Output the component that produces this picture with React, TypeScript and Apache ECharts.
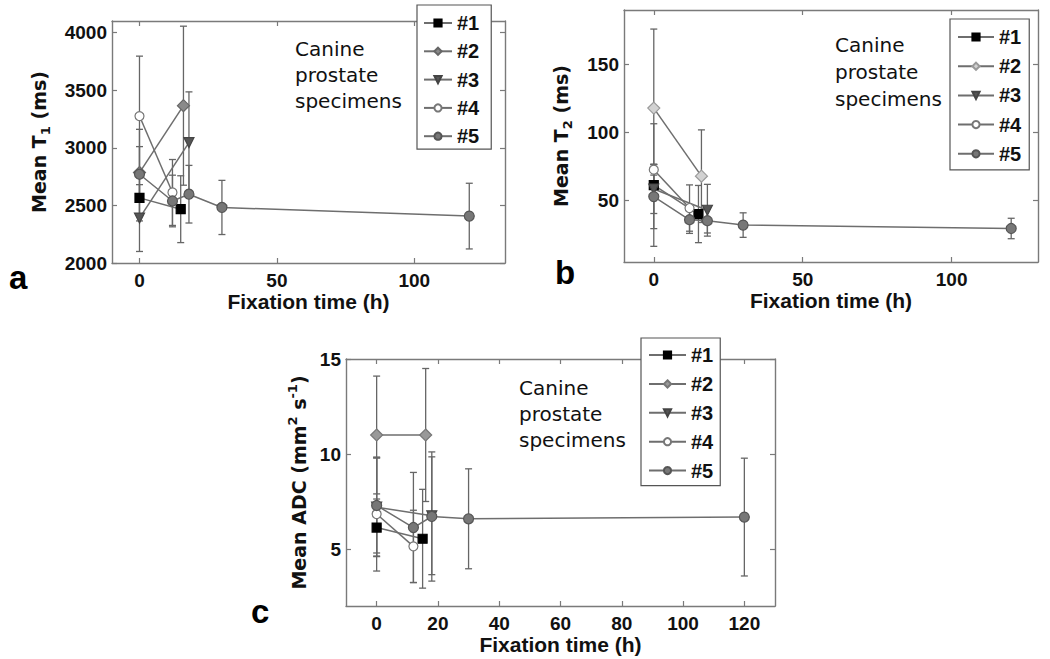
import React, { useEffect, useRef } from 'react';
import * as echarts from 'echarts';

// Fixation times (h) of each specimen
const hours = [
  [0, 15],
  [0, 16],
  [0, 18],
  [0, 12],
  [0, 12, 18, 30, 120],
];
const specimens = ['#1', '#2', '#3', '#4', '#5'];

// Panel a: mean T1 (ms) and error bars
const t1Means = [
  [2565, 2467],
  [2785, 3365],
  [2390, 3045],
  [3275, 2612],
  [2770, 2538, 2597, 2482, 2407],
];
const t1Errors = [
  [200, 290],
  [375, 690],
  [290, 440],
  [520, 286],
  [240, 224, 250, 235, 285],
];

// Panel b: mean T2 (ms)
const t2Means = [
  [61.5, 40.2],
  [118, 68],
  [58.6, 43],
  [72.8, 44.6],
  [53, 36, 35.3, 32.1, 29.6],
];
const t2Errors = [
  [45, 21],
  [58, 34],
  [18, 19],
  [4, 17],
  [23.5, 10, 9, 9, 7.5],
];

// Panel c: mean ADC
const adcMeans = [
  [6.13, 5.54],
  [11.0, 11.0],
  [7.2, 6.75],
  [6.84, 5.14],
  [7.29, 6.13, 6.71, 6.59, 6.68],
];
const adcErrors = [
  [1.5, 2.6],
  [3.1, 3.5],
  [2.6, 3.1],
  [3.0, 1.9],
  [2.5, 2.9, 3.4, 2.63, 3.1],
];

const t1XTicks = [0, 50, 100];
const t1YTicks = [2000, 2500, 3000, 3500, 4000];
const t2XTicks = [0, 50, 100];
const t2YTicks = [50, 100, 150];
const adcXTicks = [0, 20, 40, 60, 80, 100, 120];
const adcYTicks = [5, 10, 15];

const FONT = "'Liberation Sans', Arial, sans-serif";
const WIDE_FONT = "'DejaVu Sans', sans-serif";
const AXIS_COLOR = '#7a7a7a';
const LINE_COLOR = '#6e6e6e';
const TEXT_COLOR = '#111';

type MarkerStyle = { symbol: string; size: number; rotate: number; fill: string; border: string };

function markerStyles(diamondFill: string, diamondBorder: string): MarkerStyle[] {
  return [
    { symbol: 'rect', size: 9, rotate: 0, fill: '#000', border: '#000' },
    { symbol: 'diamond', size: 12, rotate: 0, fill: diamondFill, border: diamondBorder },
    { symbol: 'triangle', size: 10, rotate: 180, fill: '#555', border: '#444' },
    { symbol: 'circle', size: 9, rotate: 0, fill: '#fff', border: '#777' },
    { symbol: 'circle', size: 10, rotate: 0, fill: '#777', border: '#555' },
  ];
}

function errorBarRender(params: any, api: any) {
  const x = api.value(0);
  const y = api.value(1);
  const e = api.value(2);
  const top = api.coord([x, y + e]);
  const bot = api.coord([x, y - e]);
  const w = 3.5;
  const style = { stroke: '#666', lineWidth: 1.3 };
  return {
    type: 'group',
    children: [
      { type: 'line', shape: { x1: top[0], y1: top[1], x2: bot[0], y2: bot[1] }, style },
      { type: 'line', shape: { x1: top[0] - w, y1: top[1], x2: top[0] + w, y2: top[1] }, style },
      { type: 'line', shape: { x1: bot[0] - w, y1: bot[1], x2: bot[0] + w, y2: bot[1] }, style },
    ],
  };
}

function panelSeries(g: number, prefix: string, means: number[][], errors: number[][], styles: MarkerStyle[]) {
  const out: any[] = [];
  means.forEach((m, s) => {
    const st = styles[s];
    out.push({
      type: 'custom',
      name: prefix + specimens[s] + 'err',
      xAxisIndex: 2 * g,
      yAxisIndex: 2 * g,
      renderItem: errorBarRender,
      encode: { x: 0, y: 1 },
      data: hours[s].map((h, i) => [h, m[i], errors[s][i]]),
      z: 1,
      silent: true,
    });
    out.push({
      type: 'line',
      name: prefix + specimens[s],
      xAxisIndex: 2 * g,
      yAxisIndex: 2 * g,
      data: hours[s].map((h, i) => [h, m[i]]),
      symbol: st.symbol,
      symbolSize: st.size,
      symbolRotate: st.rotate,
      showAllSymbol: true,
      lineStyle: { color: LINE_COLOR, width: 1.5 },
      itemStyle: { color: st.fill, borderColor: st.border, borderWidth: 1.2 },
      z: 3,
    });
  });
  return out;
}

function axesFor(g: number, xMin: number, xMax: number, xTicks: number[], yMin: number, yMax: number, yTicks: number[], yName: string, yNameGap: number, yRich: any) {
  const common = {
    gridIndex: g,
    type: 'value',
    splitLine: { show: false },
    axisLine: { show: true, onZero: false, lineStyle: { color: AXIS_COLOR, width: 1.4 } },
  };
  const tickStyle = { color: AXIS_COLOR, width: 1.2 };
  const xAxes = [
    {
      ...common,
      position: 'bottom',
      min: xMin,
      max: xMax,
      axisTick: { show: true, inside: true, length: 5, customValues: xTicks, lineStyle: tickStyle },
      axisLabel: { customValues: xTicks, margin: 8, fontSize: 19, fontWeight: 'bold', fontFamily: FONT, color: TEXT_COLOR, formatter: (v: number) => String(v) },
      name: 'Fixation time (h)',
      nameLocation: 'middle',
      nameGap: 25,
      nameTextStyle: { fontSize: 21, fontWeight: 'bold', fontFamily: FONT, color: TEXT_COLOR, verticalAlign: 'top' },
    },
    {
      ...common,
      position: 'top',
      min: xMin,
      max: xMax,
      axisTick: { show: true, inside: true, length: 5, customValues: xTicks, lineStyle: tickStyle },
      axisLabel: { show: false },
    },
  ];
  const yAxes = [
    {
      ...common,
      position: 'left',
      min: yMin,
      max: yMax,
      axisTick: { show: true, inside: true, length: 5, customValues: yTicks, lineStyle: tickStyle },
      axisLabel: { customValues: yTicks, margin: 5, fontSize: 19, fontWeight: 'bold', fontFamily: FONT, color: TEXT_COLOR, formatter: (v: number) => String(v) },
      name: yName,
      nameLocation: 'middle',
      nameGap: yNameGap,
      nameTextStyle: { fontFamily: WIDE_FONT, color: TEXT_COLOR, rich: yRich },
    },
    {
      ...common,
      position: 'right',
      min: yMin,
      max: yMax,
      axisTick: { show: true, inside: true, length: 5, customValues: yTicks, lineStyle: tickStyle },
      axisLabel: { show: false },
    },
  ];
  return { xAxes, yAxes };
}

const richBase = {
  m: { fontSize: 19, fontWeight: 'bold', fontFamily: WIDE_FONT, color: TEXT_COLOR, lineHeight: 26 },
  sub: { fontSize: 13, fontWeight: 'bold', fontFamily: WIDE_FONT, color: TEXT_COLOR, lineHeight: 14, verticalAlign: 'bottom' },
  sup: { fontSize: 13, fontWeight: 'bold', fontFamily: WIDE_FONT, color: TEXT_COLOR, lineHeight: 14, verticalAlign: 'top' },
};

function legendFor(prefix: string, left: number, top: number, itemWidth: number, itemGap: number, padding: number[]) {
  return {
    data: specimens.map((s) => prefix + s),
    formatter: (n: string) => n.slice(1),
    orient: 'vertical',
    left,
    top,
    itemWidth,
    itemHeight: 9,
    itemGap,
    padding,
    selectedMode: false,
    backgroundColor: '#fff',
    borderColor: '#555',
    borderWidth: 1.2,
    borderRadius: 0,
    textStyle: { fontSize: 20, fontWeight: 'bold', fontFamily: FONT, color: TEXT_COLOR, lineHeight: 20 },
  };
}

function annotation(left: number, top: number, lineHeight: number) {
  return {
    type: 'text',
    left,
    top,
    style: {
      text: 'Canine\nprostate\nspecimens',
      fontSize: 20,
      fontFamily: WIDE_FONT,
      lineHeight,
      fill: TEXT_COLOR,
    },
    z: 10,
  };
}

function panelLetter(text: string, x: number, y: number) {
  return {
    type: 'text',
    x,
    y,
    style: { text, fontSize: 33, fontWeight: 'bold', fontFamily: FONT, fill: '#000', verticalAlign: 'middle' },
  };
}

export default function App() {
  const ref = useRef<HTMLDivElement>(null);
  useEffect(() => {
    if (!ref.current) return;
    const chart = echarts.init(ref.current, undefined, { renderer: 'svg' });

    const aAxes = axesFor(0, -10, 133, t1XTicks, 2000, 4100, t1YTicks, '{m|Mean T}{sub|1}{m| (ms)}', 60, richBase);
    const bAxes = axesFor(1, -10, 129, t2XTicks, 5, 190, t2YTicks, '{m|Mean T}{sub|2}{m| (ms)}', 50, richBase);
    const cAxes = axesFor(2, -10, 130, adcXTicks, 2, 15, adcYTicks, '{m|Mean ADC (mm}{sup|2}{m| s}{sup|-1}{m|)}', 34, richBase);

    const option: any = {
      animation: false,
      backgroundColor: '#fff',
      grid: [
        { left: 112, top: 21, width: 393, height: 242 },
        { left: 624, top: 10, width: 414, height: 252 },
        { left: 346, top: 359, width: 429, height: 247 },
      ],
      xAxis: [...aAxes.xAxes, ...bAxes.xAxes, ...cAxes.xAxes],
      yAxis: [...aAxes.yAxes, ...bAxes.yAxes, ...cAxes.yAxes],
      legend: [
        legendFor('a', 417, 5, 28, 8.3, [8, 12, 3, 6]),
        legendFor('b', 950, 19, 36, 9.2, [8, 8, 6, 7]),
        legendFor('c', 641, 338, 37, 8.9, [7, 7, 5, 7]),
      ],
      series: [
        ...panelSeries(0, 'a', t1Means, t1Errors, markerStyles('#8a8a8a', '#666')),
        ...panelSeries(1, 'b', t2Means, t2Errors, markerStyles('#d2d2d2', '#9a9a9a')),
        ...panelSeries(2, 'c', adcMeans, adcErrors, markerStyles('#999', '#777')),
      ],
      graphic: [
        annotation(295, 36, 26),
        annotation(835, 31, 27),
        annotation(519, 375, 26),
        panelLetter('a', 9, 277),
        panelLetter('b', 555, 272),
        panelLetter('c', 251, 611),
      ],
    };
    chart.setOption(option);
    return () => chart.dispose();
  }, []);
  return <div ref={ref} style={{ position: 'fixed', left: 0, top: 0, width: 1050, height: 659 }} />;
}
